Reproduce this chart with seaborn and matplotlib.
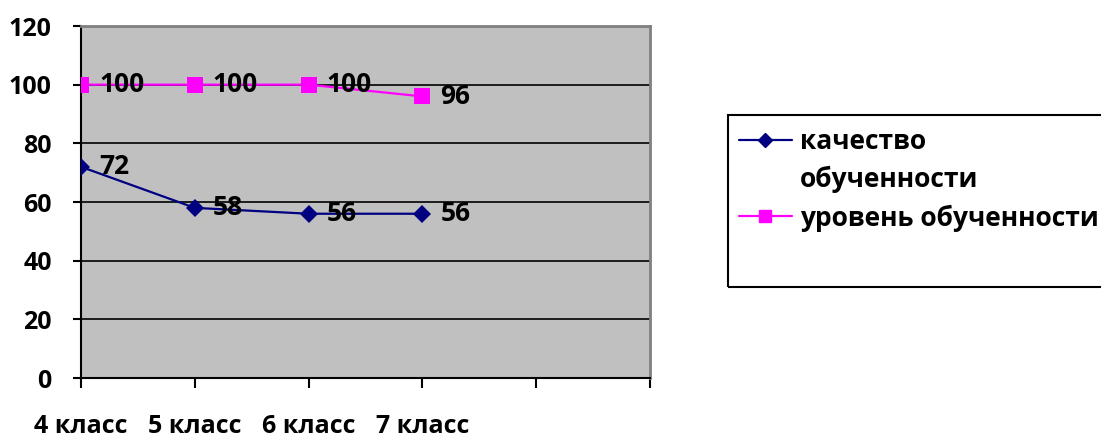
import pandas as pd
import matplotlib.pyplot as plt
import seaborn as sns
from matplotlib.lines import Line2D
from matplotlib.patches import Rectangle

# Chart data
classes = ['4 класс', '5 класс', '6 класс', '7 класс']
quality = [72, 58, 56, 56]
level = [100, 100, 100, 96]
series_names = ['качество обученности', 'уровень обученности']
colors = {'качество обученности': '#000080', 'уровень обученности': '#FF00FF'}
markers = {'качество обученности': 'D', 'уровень обученности': 's'}

df = pd.DataFrame({
    'class': classes * 2,
    'value': quality + level,
    'series': [series_names[0]] * len(classes) + [series_names[1]] * len(classes),
})

sns.set_style('ticks')
plt.rcParams['font.family'] = ['Open Sans', 'DejaVu Sans']
plt.rcParams['font.weight'] = 'bold'
plt.rcParams['text.color'] = 'black'
plt.rcParams['xtick.color'] = 'black'
plt.rcParams['ytick.color'] = 'black'

fig = plt.figure(figsize=(11.01, 4.42), dpi=100)
ax = fig.add_axes([81 / 1101, 1 - 378 / 442, (650 - 81) / 1101, (378 - 26) / 442])
ax.set_facecolor('#C0C0C0')

sns.lineplot(data=df, x='class', y='value', hue='series', style='series',
             palette=colors, markers=markers, dashes=False, hue_order=series_names,
             style_order=series_names, linewidth=1.6, markeredgewidth=0,
             legend=False, ax=ax, zorder=3)
for ln, ms in zip(ax.lines, [9, 11]):
    ln.set_markersize(ms)

# data labels
for vals in (quality, level):
    for i, v in enumerate(vals):
        ax.annotate(str(v), (i, v), xytext=(13, 0), textcoords='offset points',
                    ha='left', va='center', fontsize=19, fontweight='bold',
                    color='black', zorder=4)

ax.set_xlim(0, 5)
ax.set_ylim(0, 120)
ax.set_yticks(range(0, 121, 20))
ax.set_xticks(range(6))
ax.set_xticklabels(classes + ['', ''])
ax.set_xlabel('')
ax.set_ylabel('')
ax.grid(axis='y', color='black', linewidth=1.2)
ax.grid(axis='x', visible=False)
ax.set_axisbelow(True)

ax.tick_params(axis='y', length=6, width=1.5, pad=15, labelsize=18, direction='out')
ax.tick_params(axis='x', length=7, width=1.5, pad=19, labelsize=18, direction='out')
for lab in ax.get_xticklabels() + ax.get_yticklabels():
    lab.set_fontweight('bold')

for side in ('left', 'bottom'):
    ax.spines[side].set_color('black')
    ax.spines[side].set_linewidth(1.5)
for side in ('top', 'right'):
    ax.spines[side].set_visible(True)
    ax.spines[side].set_color('#808080')
    ax.spines[side].set_linewidth(2)

# legend frame and entries
fig.add_artist(Rectangle((728 / 1101, 1 - 287 / 442), 0.4, (287 - 115) / 442,
                         transform=fig.transFigure, fill=False,
                         edgecolor='black', linewidth=1.5))
handles = [
    Line2D([], [], color=colors[series_names[0]], marker='D', markersize=7, linewidth=1.6),
    Line2D([], [], linestyle='none'),
    Line2D([], [], color=colors[series_names[1]], marker='s', markersize=9, linewidth=1.6),
]
labels = ['качество', 'обученности', 'уровень обученности']
fig.legend(handles, labels, loc='upper left', bbox_to_anchor=(739 / 1101, 1 - 128 / 442),
           frameon=False, borderpad=0, borderaxespad=0, handlelength=2.0,
           handletextpad=0.3, labelspacing=0.42,
           prop={'size': 19, 'weight': 'bold'})

fig.savefig('out.png', dpi=100)
